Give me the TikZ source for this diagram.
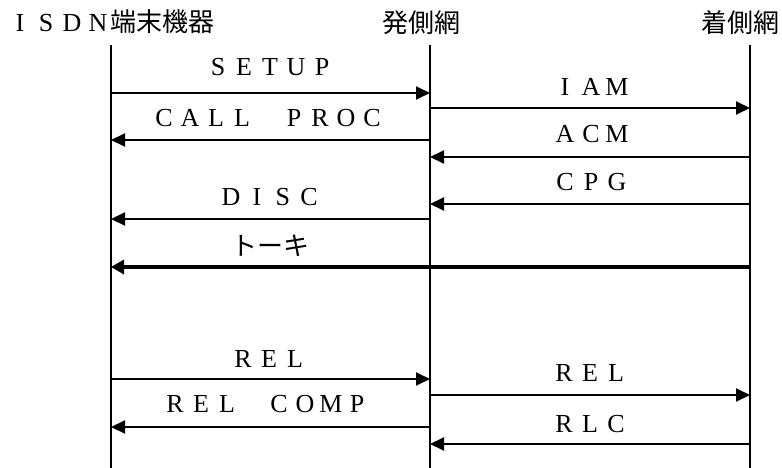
\documentclass[tikz,border=0pt]{standalone}
\usepackage{fontspec}
\setmainfont{Liberation Serif}
\newfontfamily\jpfont{Noto Sans CJK JP}
\usetikzlibrary{arrows.meta}
\newlength{\fwpitch}
\setlength{\fwpitch}{26pt}
\ExplSyntaxOn
\NewDocumentCommand\fwtext{m}{\tl_map_inline:nn{#1}{\makebox[\fwpitch][c]{##1}}}
\ExplSyntaxOff
\newcommand\fwgap{\hspace{\fwpitch}}
\begin{document}
\begin{tikzpicture}[x=1pt,y=-1pt,
  lbl/.style={inner sep=0pt,font=\fontsize{26pt}{26pt}\selectfont},
  head/.style={inner sep=0pt,font=\fontsize{26pt}{26pt}\selectfont},
  life/.style={line width=2pt},
  msg/.style={line width=2pt,-{Triangle[length=14pt,width=13pt]}},
  talk/.style={line width=4pt,-{Triangle[length=13pt,width=14pt]}}]
\useasboundingbox (0,0) rectangle (782,468);
% headers
\node[head] (hA) at (111,22) {\fwtext{ISDN}\jpfont 端末機器};
\node[head] (hB) at (421,23) {\jpfont 発側網};
\node[head] (hC) at (740,23) {\jpfont 着側網};
% lifelines
\coordinate (A) at (111,45);
\coordinate (B) at (430,45);
\coordinate (C) at (750,45);
\coordinate (Ae) at (111,468);
\coordinate (Be) at (430,468);
\coordinate (Ce) at (750,468);
\draw[life] (A) -- (Ae);
\draw[life] (B) -- (Be);
\draw[life] (C) -- (Ce);
% rows
\coordinate (r1) at (0,93);
\coordinate (r2) at (0,108);
\coordinate (r3) at (0,140);
\coordinate (r4) at (0,157);
\coordinate (r5) at (0,204);
\coordinate (r6) at (0,219);
\coordinate (r7) at (0,267);
\coordinate (r8) at (0,379);
\coordinate (r9) at (0,395);
\coordinate (r10) at (0,427);
\coordinate (r11) at (0,444);
% messages
\draw[msg] (A |- r1) -- (B |- r1);
\node[lbl] (t1) at (270,67) {\fwtext{SETUP}};
\draw[msg] (B |- r2) -- (C |- r2);
\node[lbl] (t2) at (591,87) {\fwtext{IAM}};
\draw[msg] (B |- r3) -- (A |- r3);
\node[lbl] (t3) at (268,118) {\fwtext{CALL}\fwgap\fwtext{PROC}};
\draw[msg] (C |- r4) -- (B |- r4);
\node[lbl] (t4) at (591,134) {\fwtext{ACM}};
\draw[msg] (C |- r5) -- (B |- r5);
\node[lbl] (t5) at (591,182) {\fwtext{CPG}};
\draw[msg] (B |- r6) -- (A |- r6);
\node[lbl] (t6) at (270,197) {\fwtext{DISC}};
\draw[talk] (C |- r7) -- (A |- r7);
\node[lbl] (t7) at (270,246) {\jpfont トーキ};
\draw[msg] (A |- r8) -- (B |- r8);
\node[lbl] (t8) at (269,359) {\fwtext{REL}};
\draw[msg] (B |- r9) -- (C |- r9);
\node[lbl] (t9) at (590,373) {\fwtext{REL}};
\draw[msg] (B |- r10) -- (A |- r10);
\node[lbl] (t10) at (266,404) {\fwtext{REL}\fwgap\fwtext{COMP}};
\draw[msg] (C |- r11) -- (B |- r11);
\node[lbl] (t11) at (590,424) {\fwtext{RLC}};
\end{tikzpicture}
\end{document}
